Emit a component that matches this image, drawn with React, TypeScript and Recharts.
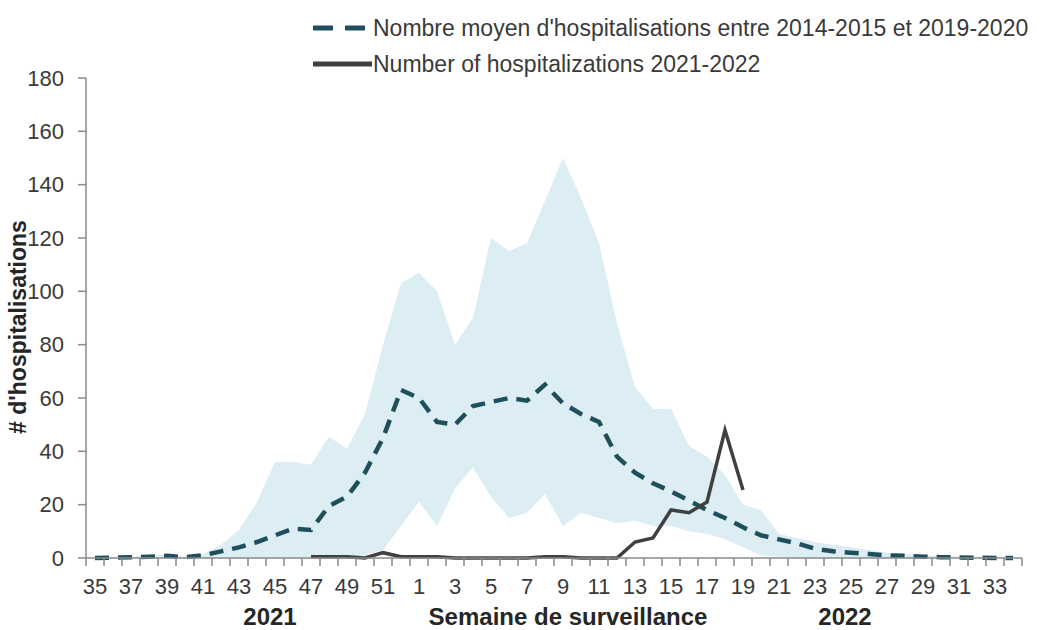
import React from 'react';
import { ComposedChart, Area, Line, XAxis, YAxis, Legend, Label } from 'recharts';

// Surveillance weeks, 2021 (35-52) then 2022 (1-34)
const weekLabels = [
  '35', '36', '37', '38', '39', '40', '41', '42', '43', '44', '45', '46', '47', '48', '49', '50', '51', '52',
  '1', '2', '3', '4', '5', '6', '7', '8', '9', '10', '11', '12', '13', '14', '15', '16', '17',
  '18', '19', '20', '21', '22', '23', '24', '25', '26', '27', '28', '29', '30', '31', '32', '33', '34',
];

// average 2014-2015 to 2019-2020
const meanHosp = [
  0, 0.1, 0.3, 0.5, 0.8, 0.3, 1, 2.5, 4, 6, 8.5, 11, 10.5, 19.5, 23, 32, 45, 63,
  60, 51, 50, 57, 58.5, 60, 59, 65, 58, 54, 51, 38, 32, 28, 25, 21.5, 18,
  15, 11.5, 8.5, 7, 5.5, 3.5, 2.5, 2, 1.5, 1, 0.8, 0.5, 0.3, 0.2, 0.1, 0, 0,
];

// min / max of previous seasons (shaded band)
const upperBound = [
  0.5, 0.5, 0.5, 1, 1, 0.5, 1.5, 5, 10.5, 21, 36, 36, 35, 45.5, 41, 54, 80, 103,
  107, 100, 80, 90, 120, 115, 118, 134, 150, 135, 118, 88, 64, 56, 56, 42, 38,
  31, 20, 18, 9, 7.5, 6, 5, 4, 3, 2, 1.5, 1, 0.8, 0.5, 0.5, 0.3, 0.3,
];
const lowerBound = [
  0, 0, 0, 0, 0, 0, 0, 0, 0, 0, 0, 0, 0, 0, 0, 1, 3, 12,
  21, 12, 26, 34, 23, 15, 17, 24, 12, 17, 15, 13, 14, 12, 12, 10, 9,
  7, 4, 1, 0.5, 0, 0, 0, 0, 0, 0, 0, 0, 0, 0, 0, 0, 0,
];

// 2021-2022 season
const currentHosp = [
  null, null, null, null, null, null, null, null, null, null, null, null, 0.5, 0.5, 0.5, 0, 2, 0.5,
  0.5, 0.5, 0, 0, 0, 0, 0, 0.5, 0.5, 0, 0, 0, 6, 7.5, 18, 17, 21,
  48, 25.5, null, null, null, null, null, null, null, null, null, null, null, null, null, null, null,
];

const yTicks = [0, 20, 40, 60, 80, 100, 120, 140, 160, 180];

const FONT = '"Liberation Sans", Arial, sans-serif';
const MEAN_COLOR = '#1f4e5c';
const CURRENT_COLOR = '#404040';
const BAND_COLOR = '#dcedf4';
const AXIS_COLOR = '#8a8a8a';
const TEXT_COLOR = '#3a3a3a';

const data = weekLabels.map((week, i) => ({
  idx: i,
  week,
  mean: meanHosp[i],
  range: [lowerBound[i], upperBound[i]],
  current: currentHosp[i],
}));

// tick marks sit between weeks, labels on every other week
const boundaryTicks = [...weekLabels.map((_, i) => i - 0.5), weekLabels.length - 0.5];
const labelTicks = weekLabels.map((_, i) => i).filter((i) => i % 2 === 0);
const xDomain = [-0.5, weekLabels.length - 0.5];

const LegendBox = () => (
  <div style={{ fontFamily: FONT, fontSize: 23, color: TEXT_COLOR, lineHeight: '36px', whiteSpace: 'nowrap' }}>
    <div style={{ display: 'flex', alignItems: 'center' }}>
      <svg width={60} height={10} style={{ flex: 'none' }}>
        <line x1={0} y1={5} x2={54} y2={5} stroke={MEAN_COLOR} strokeWidth={5} strokeDasharray="20 12" />
      </svg>
      <span>Nombre moyen d'hospitalisations entre 2014-2015 et 2019-2020</span>
    </div>
    <div style={{ display: 'flex', alignItems: 'center' }}>
      <svg width={60} height={10} style={{ flex: 'none' }}>
        <line x1={0} y1={5} x2={59} y2={5} stroke={CURRENT_COLOR} strokeWidth={5} />
      </svg>
      <span>Number of hospitalizations 2021-2022</span>
    </div>
  </div>
);

const YTitle = (props: any) => {
  const { y, height } = props.viewBox;
  const cx = 18;
  const cy = y + height / 2 + 9;
  return (
    <text
      x={cx}
      y={cy}
      transform={`rotate(-90, ${cx}, ${cy})`}
      textAnchor="middle"
      dominantBaseline="central"
      fontFamily={FONT}
      fontWeight="bold"
      fontSize={23}
      fill="#262626"
    >
      # d'hospitalisations
    </text>
  );
};

const BottomTitles = (props: any) => {
  const { x, y } = props.viewBox;
  const ty = y + 59;
  return (
    <g fontFamily={FONT} fontWeight="bold" fontSize={24} fill="#262626" textAnchor="middle">
      <text x={x + 184} y={ty}>2021</text>
      <text x={x + 482} y={ty}>Semaine de surveillance</text>
      <text x={x + 759} y={ty}>2022</text>
    </g>
  );
};

const App: React.FC = () => {
  return (
    <div style={{ position: 'absolute', left: 0, top: 0, width: 1043, height: 630, background: '#fff' }}>
      <ComposedChart width={1043} height={630} data={data} margin={{ top: 78, right: 21, left: 26, bottom: 0 }}>
        <XAxis
          dataKey="idx"
          type="number"
          domain={xDomain}
          ticks={boundaryTicks}
          interval={0}
          tickSize={8}
          height={8}
          tickFormatter={() => ''}
          stroke={AXIS_COLOR}
          strokeWidth={1.5}
        />
        <XAxis
          xAxisId="lbl"
          dataKey="idx"
          type="number"
          domain={xDomain}
          ticks={labelTicks}
          interval={0}
          axisLine={false}
          tickLine={false}
          tickSize={6}
          tickMargin={6}
          height={64}
          tickFormatter={(i: number) => weekLabels[i]}
          tick={{ fill: TEXT_COLOR, fontSize: 22, fontFamily: FONT }}
        >
          <Label content={BottomTitles} />
        </XAxis>
        <YAxis
          type="number"
          domain={[0, 180]}
          ticks={yTicks}
          interval={0}
          width={60}
          tickSize={8}
          tickMargin={14}
          stroke={AXIS_COLOR}
          strokeWidth={1.5}
          tick={{ fill: TEXT_COLOR, fontSize: 22, fontFamily: FONT }}
        >
          <Label content={YTitle} />
        </YAxis>
        <Legend
          verticalAlign="middle"
          content={LegendBox}
          wrapperStyle={{ position: 'absolute', top: 10, left: 313, width: 'auto' }}
        />
        <Area
          dataKey="range"
          stroke="none"
          fill={BAND_COLOR}
          fillOpacity={1}
          legendType="none"
          isAnimationActive={false}
        />
        <Line
          dataKey="mean"
          stroke={MEAN_COLOR}
          strokeWidth={4.5}
          strokeDasharray="14 9"
          dot={false}
          isAnimationActive={false}
        />
        <Line
          dataKey="current"
          stroke={CURRENT_COLOR}
          strokeWidth={3.5}
          dot={false}
          connectNulls={false}
          isAnimationActive={false}
        />
      </ComposedChart>
    </div>
  );
};

export default App;
